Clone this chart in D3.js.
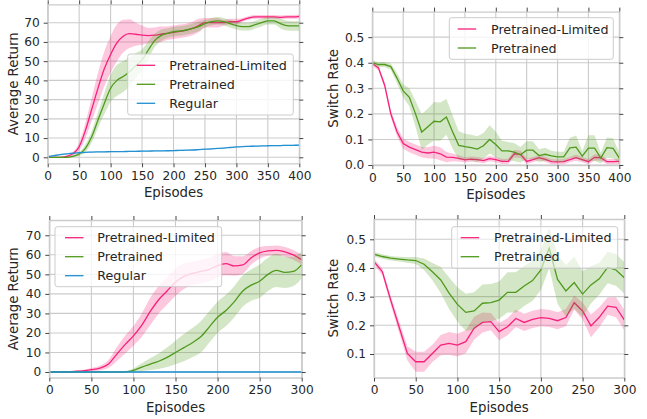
<!DOCTYPE html>
<html><head><meta charset="utf-8">
<script src="https://cdn.jsdelivr.net/npm/d3@7/dist/d3.min.js"></script>
<style>body{margin:0;background:#fff}svg{display:block}</style>
</head><body>
<svg id="c" width="647" height="419"></svg>
<script>
// ---------- DATA ----------
const seriesNames = ["Pretrained-Limited", "Pretrained", "Regular"];

const episodes400 = [0,10,20,30,40,50,60,70,80,90,100,110,120,130,140,150,160,170,180,190,200,210,220,230,240,250,260,270,280,290,300,310,320,330,340,350,360,370,380,390,400];
const episodes300 = [0,10,20,30,40,50,60,70,80,90,100,110,120,130,140,150,160,170,180,190,200,210,220,230,240,250,260,270,280,290,300];

const xTicks400 = [0,50,100,150,200,250,300,350,400];
const xTicks300 = [0,50,100,150,200,250,300];
const returnTicks = [0,10,20,30,40,50,60,70];
const switchTicksTop = [0.0,0.1,0.2,0.3,0.4,0.5];
const switchTicksBottom = [0.1,0.2,0.3,0.4,0.5];

// Top-left: Average Return, 400 episodes
const retA_limited = [0,0,0,0.5,1.8,5.5,14,25,36,46,53.5,59.5,63,64.3,64,63.5,63.3,63.5,64,64.5,65,65.5,66,67,68.5,70,70,70,70,70.5,70.5,71.5,72.5,73,73,73,73,72.8,73,73,73.3];
const retA_limitedErr = [0.3,0.3,0.3,0.4,1,2,4,6,8,9,9.5,9.5,8.5,7.5,6,5,4,4,4,3.5,3.5,3.5,3.5,3.5,3.5,2.5,2.5,2.5,1.5,1.5,1.5,1,1,1,1,1,1,1,1,1,1];
const retA_pre = [0,0,0,0,0.5,1.7,4.7,10.7,19.4,28,35.9,40,42,44.5,47.7,50.6,55.8,60.7,63.3,64.5,65.3,65.7,66.2,67,68,69.5,70.5,71,70.5,69.5,68.5,68,68,69,70,71,71,69.5,68.5,68.3,68.3];
const retA_preErr = [0.3,0.3,0.3,0.3,0.4,1,2,3,4,5.5,7,8,8,7.5,6.5,5.5,4.5,3.5,3,2.5,2.5,2.5,2.5,2.5,2.5,2,2,2,2,2,2,2,2,2,2,2,2,2.5,2.5,2.5,2.5];
const retA_reg = [0.4,0.9,1.4,1.8,2.2,2.4,2.6,2.7,2.8,2.85,2.9,2.95,3.0,3.05,3.1,3.2,3.25,3.3,3.35,3.4,3.5,3.6,3.7,3.8,4.0,4.2,4.4,4.6,4.8,5.1,5.4,5.6,5.7,5.8,5.9,6.0,6.05,6.1,6.2,6.25,6.3];
const retA_regErr = [0.3,0.3,0.3,0.3,0.3,0.3,0.3,0.3,0.3,0.3,0.3,0.3,0.3,0.3,0.3,0.3,0.3,0.3,0.3,0.3,0.3,0.3,0.3,0.3,0.3,0.3,0.3,0.3,0.3,0.3,0.3,0.3,0.3,0.3,0.3,0.3,0.3,0.3,0.3,0.3,0.3];

// Top-right: Switch Rate, 400 episodes
const swA_limited = [0.397,0.38,0.312,0.2,0.13,0.084,0.07,0.06,0.05,0.047,0.05,0.044,0.031,0.03,0.026,0.02,0.023,0.021,0.017,0.025,0.021,0.014,0.014,0.044,0.042,0.014,0.021,0.029,0.022,0.013,0.012,0.013,0.021,0.029,0.021,0.013,0.03,0.029,0.013,0.013,0.014];
const swA_limitedErr = [0.01,0.01,0.012,0.015,0.018,0.02,0.02,0.02,0.02,0.022,0.025,0.025,0.02,0.015,0.012,0.01,0.01,0.01,0.01,0.01,0.01,0.01,0.01,0.015,0.015,0.01,0.01,0.01,0.01,0.01,0.01,0.01,0.01,0.012,0.01,0.01,0.012,0.012,0.01,0.01,0.01];
const swA_pre = [0.40,0.393,0.393,0.385,0.34,0.29,0.265,0.2,0.129,0.15,0.171,0.169,0.188,0.13,0.077,0.072,0.068,0.062,0.075,0.1,0.08,0.055,0.055,0.05,0.04,0.058,0.058,0.037,0.042,0.036,0.032,0.032,0.067,0.07,0.035,0.066,0.066,0.027,0.068,0.065,0.027];
const swA_preErr = [0.01,0.01,0.01,0.012,0.02,0.025,0.035,0.05,0.07,0.07,0.075,0.075,0.07,0.065,0.055,0.05,0.05,0.05,0.05,0.055,0.05,0.04,0.035,0.035,0.03,0.035,0.035,0.025,0.025,0.02,0.02,0.02,0.04,0.045,0.02,0.05,0.05,0.02,0.04,0.04,0.02];

// Bottom-left: Average Return, 300 episodes
const retB_limited = [0,0,0,0.3,0.6,1.2,2,4,9,14,18.5,24,31,37,41.5,46,49,50.5,51.5,52.5,54.5,55.5,54.3,54.8,58.5,61,62,62.3,61.5,60,57.5];
const retB_limitedErr = [0.2,0.2,0.3,0.4,0.5,0.8,1.2,2,3.5,4.5,5,6,7,7,7,7,6.5,6,6,6,6,6,5,4.5,3.5,3,2.5,2.5,2.5,2.5,2.5];
const retB_pre = [0,0,0,0,0,0,0,0,0,0.1,0.8,2.5,4,5.5,7.5,10,12.5,15,18,23,28,31.5,36,41.5,44.5,46.5,50,52,51,51.5,55];
const retB_preErr = [0.1,0.1,0.1,0.1,0.1,0.1,0.1,0.1,0.1,0.3,1,2,3,4,5,6,7,7.5,8,8,8,8,8,8,8,8.5,8.5,8.5,8,7.5,7];
const retB_reg = [0,0,0,0,0,0,0,0,0,0,0,0,0,0,0,0,0,0,0,0,0,0,0,0,0,0,0,0,0,0,0];
const retB_regErr = [0.2,0.2,0.2,0.2,0.2,0.2,0.2,0.2,0.2,0.2,0.2,0.2,0.2,0.2,0.2,0.2,0.2,0.2,0.2,0.2,0.2,0.2,0.2,0.2,0.2,0.2,0.2,0.2,0.2,0.2,0.2];

// Bottom-right: Switch Rate, 300 episodes
const swB_limited = [0.422,0.387,0.288,0.195,0.102,0.073,0.073,0.102,0.131,0.137,0.131,0.143,0.19,0.21,0.213,0.178,0.195,0.224,0.21,0.221,0.227,0.224,0.216,0.227,0.279,0.25,0.198,0.228,0.267,0.263,0.219];
const swB_limitedErr = [0.01,0.012,0.015,0.02,0.025,0.035,0.035,0.03,0.035,0.04,0.04,0.04,0.04,0.035,0.03,0.03,0.03,0.03,0.03,0.03,0.03,0.03,0.03,0.03,0.025,0.03,0.04,0.035,0.03,0.035,0.035];
const swB_pre = [0.448,0.44,0.434,0.431,0.428,0.426,0.413,0.387,0.358,0.312,0.273,0.245,0.25,0.277,0.279,0.288,0.315,0.315,0.337,0.356,0.393,0.469,0.36,0.32,0.349,0.309,0.341,0.362,0.402,0.393,0.366];
const swB_preErr = [0.008,0.008,0.008,0.008,0.01,0.012,0.02,0.03,0.045,0.055,0.06,0.065,0.065,0.065,0.065,0.065,0.07,0.07,0.07,0.07,0.07,0.07,0.085,0.09,0.09,0.08,0.065,0.055,0.055,0.055,0.055];

// ---------- STYLE ----------
const colors = {"Pretrained-Limited":"#f7217b","Pretrained":"#4f9a1c","Regular":"#2390d2"};
const FONT = "DejaVu Sans";
const TXT = "#262626";
const GRID = "#cbcbcb";

const svg = d3.select("#c");

function panel(cfg) {
  const x = d3.scaleLinear().domain(cfg.xDomain).range([cfg.left, cfg.right]);
  const y = d3.scaleLinear().domain(cfg.yDomain).range([cfg.bottom, cfg.top]);
  const g = svg.append("g");
  const id = "clip" + cfg.id;
  svg.append("defs").append("clipPath").attr("id", id).append("rect")
    .attr("x", cfg.left).attr("y", cfg.top).attr("width", cfg.right - cfg.left).attr("height", cfg.bottom - cfg.top);

  // grid
  g.append("g").selectAll("line").data(cfg.xTicks).join("line")
    .attr("x1", d => x(d)).attr("x2", d => x(d)).attr("y1", cfg.top).attr("y2", cfg.bottom)
    .attr("stroke", GRID).attr("stroke-width", 1.1);
  g.append("g").selectAll("line").data(cfg.yTicks).join("line")
    .attr("y1", d => y(d)).attr("y2", d => y(d)).attr("x1", cfg.left).attr("x2", cfg.right)
    .attr("stroke", GRID).attr("stroke-width", 1.1);

  // series
  const plot = g.append("g").attr("clip-path", `url(#${id})`);
  cfg.series.forEach(s => {
    const pts = cfg.xs.map((xv, i) => ({x: xv, m: s.mean[i], e: s.err[i]}));
    const curve = cfg.smooth ? d3.curveMonotoneX : d3.curveLinear;
    const area = d3.area().x(d => x(d.x)).y0(d => y(d.m - d.e)).y1(d => y(d.m + d.e)).curve(curve);
    const line = d3.line().x(d => x(d.x)).y(d => y(d.m)).curve(curve);
    plot.append("path").attr("d", area(pts)).attr("fill", colors[s.name]).attr("fill-opacity", 0.25).attr("stroke", "none");
    plot.append("path").attr("d", line(pts)).attr("fill", "none").attr("stroke", colors[s.name]).attr("stroke-width", 1.3);
  });

  // spines + ticks
  const axisStyle = (sel) => {
    sel.select(".domain").attr("stroke", GRID).attr("stroke-width", 1.3);
    sel.selectAll(".tick line").attr("stroke", "#444").attr("stroke-width", 1);
    sel.selectAll(".tick text").attr("fill", TXT).attr("font-family", FONT).attr("font-size", "12.2px");
  };
  g.append("g").attr("transform", `translate(0,${cfg.bottom})`)
    .call(d3.axisBottom(x).tickValues(cfg.xTicks).tickSizeInner(4).tickSizeOuter(0).tickPadding(4).tickFormat(d3.format("d")))
    .call(axisStyle);
  g.append("g").attr("transform", `translate(0,${cfg.top})`)
    .call(d3.axisTop(x).tickValues(cfg.xTicks).tickSizeInner(4).tickSizeOuter(0).tickFormat(""))
    .call(axisStyle);
  g.append("g").attr("transform", `translate(${cfg.left},0)`)
    .call(d3.axisLeft(y).tickValues(cfg.yTicks).tickSizeInner(4).tickSizeOuter(0).tickPadding(4).tickFormat(cfg.yFormat))
    .call(axisStyle);
  g.append("g").attr("transform", `translate(${cfg.right},0)`)
    .call(d3.axisRight(y).tickValues(cfg.yTicks).tickSizeInner(4).tickSizeOuter(0).tickFormat(""))
    .call(axisStyle);

  // axis labels
  g.append("text").attr("x", (cfg.left + cfg.right) / 2).attr("y", cfg.bottom + 34)
    .attr("text-anchor", "middle").attr("font-family", FONT).attr("font-size", "13.3px").attr("fill", TXT)
    .text("Episodes");
  g.append("text").attr("transform", `translate(${cfg.yLabelX},${(cfg.top + cfg.bottom) / 2}) rotate(-90)`)
    .attr("text-anchor", "middle").attr("font-family", FONT).attr("font-size", "13.3px").attr("fill", TXT)
    .text(cfg.yLabel);

  // legend
  const L = cfg.legend;
  const lg = g.append("g");
  lg.append("rect").attr("x", L.x0).attr("y", L.y0).attr("width", L.x1 - L.x0).attr("height", L.y1 - L.y0)
    .attr("rx", 2.5).attr("fill", "#fff").attr("fill-opacity", L.alpha).attr("stroke", "#cccccc").attr("stroke-width", 1);
  cfg.series.forEach((s, i) => {
    const ry = L.row0 + i * 19;
    lg.append("line").attr("x1", L.lx0).attr("x2", L.lx0 + 18.5).attr("y1", ry).attr("y2", ry)
      .attr("stroke", colors[s.name]).attr("stroke-width", 1.3);
    lg.append("text").attr("x", L.tx).attr("y", ry + 4.6).attr("font-family", FONT).attr("font-size", "12.7px")
      .attr("fill", TXT).text(s.name);
  });
}

const fmt1 = d3.format(".1f");
const fmt0 = d3.format("d");

panel({
  id: 1, left: 47.7, right: 299.3, top: 4.3, bottom: 163.3,
  xDomain: [0, 400], yDomain: [-3.12, 79.57], xs: episodes400, xTicks: xTicks400, yTicks: returnTicks,
  yFormat: fmt0, yLabel: "Average Return", yLabelX: 17.8, smooth: true,
  series: [
    {name: seriesNames[0], mean: retA_limited, err: retA_limitedErr},
    {name: seriesNames[1], mean: retA_pre, err: retA_preErr},
    {name: seriesNames[2], mean: retA_reg, err: retA_regErr}],
  legend: {x0: 127.7, x1: 293.3, y0: 54, y1: 115, lx0: 136.7, tx: 169.3, row0: 65.3, alpha: 0.8}
});

panel({
  id: 2, left: 372.3, right: 619.3, top: 11.6, bottom: 165,
  xDomain: [0, 400], yDomain: [0, 0.6], xs: episodes400, xTicks: xTicks400, yTicks: switchTicksTop,
  yFormat: fmt1, yLabel: "Switch Rate", yLabelX: 337.8, smooth: false,
  series: [
    {name: seriesNames[0], mean: swA_limited, err: swA_limitedErr},
    {name: seriesNames[1], mean: swA_pre, err: swA_preErr}],
  legend: {x0: 449.3, x1: 613.3, y0: 17.7, y1: 59.3, lx0: 457.7, tx: 491, row0: 29, alpha: 0.8}
});

panel({
  id: 3, left: 49.3, right: 301.7, top: 220, bottom: 377.5,
  xDomain: [0, 300], yDomain: [-2.82, 77.83], xs: episodes300, xTicks: xTicks300, yTicks: returnTicks,
  yFormat: fmt0, yLabel: "Average Return", yLabelX: 17.8, smooth: true,
  series: [
    {name: seriesNames[0], mean: retB_limited, err: retB_limitedErr},
    {name: seriesNames[1], mean: retB_pre, err: retB_preErr},
    {name: seriesNames[2], mean: retB_reg, err: retB_regErr}],
  legend: {x0: 55, x1: 221.7, y0: 226.7, y1: 286.7, lx0: 65, tx: 97.3, row0: 237.7, alpha: 0.8}
});

panel({
  id: 4, left: 374, right: 624.3, top: 219, bottom: 377.5,
  xDomain: [0, 300], yDomain: [0.0180, 0.5708], xs: episodes300, xTicks: xTicks300, yTicks: switchTicksBottom,
  yFormat: fmt1, yLabel: "Switch Rate", yLabelX: 337.8, smooth: false,
  series: [
    {name: seriesNames[0], mean: swB_limited, err: swB_limitedErr},
    {name: seriesNames[1], mean: swB_pre, err: swB_preErr}],
  legend: {x0: 451.7, x1: 617.7, y0: 226.7, y1: 268.3, lx0: 460.7, tx: 494, row0: 237.7, alpha: 0.55}
});
</script>
</body></html>
